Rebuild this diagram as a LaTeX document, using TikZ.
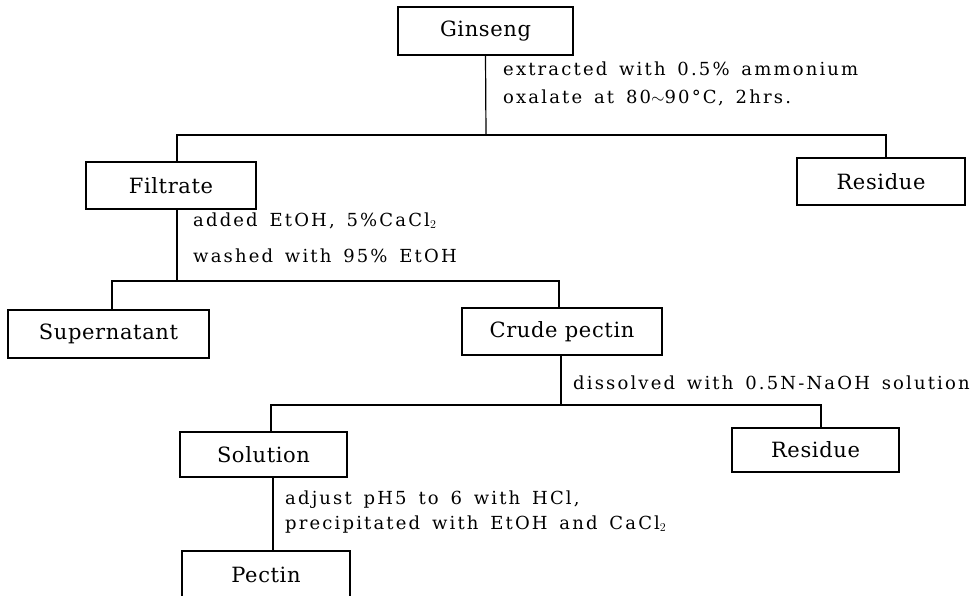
\documentclass[tikz,border=0pt]{standalone}
\usepackage{fontspec}
\newfontfamily\boxfont{DejaVu Serif}[LetterSpace=3]
\newfontfamily\notefont{DejaVu Serif}[LetterSpace=12,WordSpace=1.5]
\begin{document}
\begin{tikzpicture}[x=1pt,y=-1pt,
  box/.style={draw, line width=1.2pt, inner sep=0pt, font={\boxfont\fontsize{21}{25}\selectfont}},
  note/.style={anchor=base west, inner sep=0pt, font={\notefont\fontsize{18}{22}\selectfont}},
  link/.style={line width=1.2pt}]
\path[use as bounding box, clip] (0,0) rectangle (977,596);

% boxes
\node[box, minimum width=175pt, minimum height=48pt] (ginseng) at (485.5,31) {Ginseng};
\node[box, minimum width=170pt, minimum height=47pt] (filtrate) at (171,185.5) {Filtrate};
\node[box, minimum width=168pt, minimum height=47pt] (residue1) at (881,181.5) {Residue};
\node[box, minimum width=201pt, minimum height=48pt] (supernatant) at (108.5,334) {Supernatant};
\node[box, minimum width=200pt, minimum height=47pt] (crude) at (562,331.5) {Crude pectin};
\node[box, minimum width=167pt, minimum height=45pt] (solution) at (263.5,454.5) {Solution};
\node[box, minimum width=167pt, minimum height=44pt] (residue2) at (815.5,450) {Residue};
\node[box, minimum width=168pt, minimum height=60pt, text depth=0pt] (pectin) at (266,581) {\raisebox{13pt}{Pectin}};

% junction coordinates
\coordinate (a0) at (486,135);
\coordinate (a1) at (177,135);
\coordinate (a2) at (886,135);
\coordinate (b0) at (177,281);
\coordinate (b1) at (112,281);
\coordinate (b2) at (559,281);
\coordinate (c0) at (561,405);
\coordinate (c1) at (271,405);
\coordinate (c2) at (821,405);
\coordinate (d0) at (273,0);

% connectors
\draw[link] (ginseng.south) -- (a0);
\draw[link] (filtrate.north -| a1) -- (a1) -- (a2) -- (residue1.north -| a2);
\draw[link] (filtrate.south -| b0) -- (b0);
\draw[link] (supernatant.north -| b1) -- (b1) -- (b2) -- (crude.north -| b2);
\draw[link] (crude.south -| c0) -- (c0);
\draw[link] (solution.north -| c1) -- (c1) -- (c2) -- (residue2.north -| c2);
\draw[link] (solution.south -| d0) -- (pectin.north -| d0);

% notes
\node[note] (t1a) at (503,76) {extracted with 0.5\% ammonium};
\node[note] (t1b) at (503,104) {oxalate at 80$\sim$90°C, 2hrs.};
\node[note] (t2a) at (193,226) {added EtOH, 5\%CaCl$_2$};
\node[note] (t2b) at (193,262) {washed with 95\% EtOH};
\node[note] (t3) at (573,389) {dissolved with 0.5N-NaOH solution};
\node[note] (t4a) at (285,504) {adjust pH5 to 6 with HCl,};
\node[note] (t4b) at (285,529) {precipitated with EtOH and CaCl$_2$};
\end{tikzpicture}
\end{document}
